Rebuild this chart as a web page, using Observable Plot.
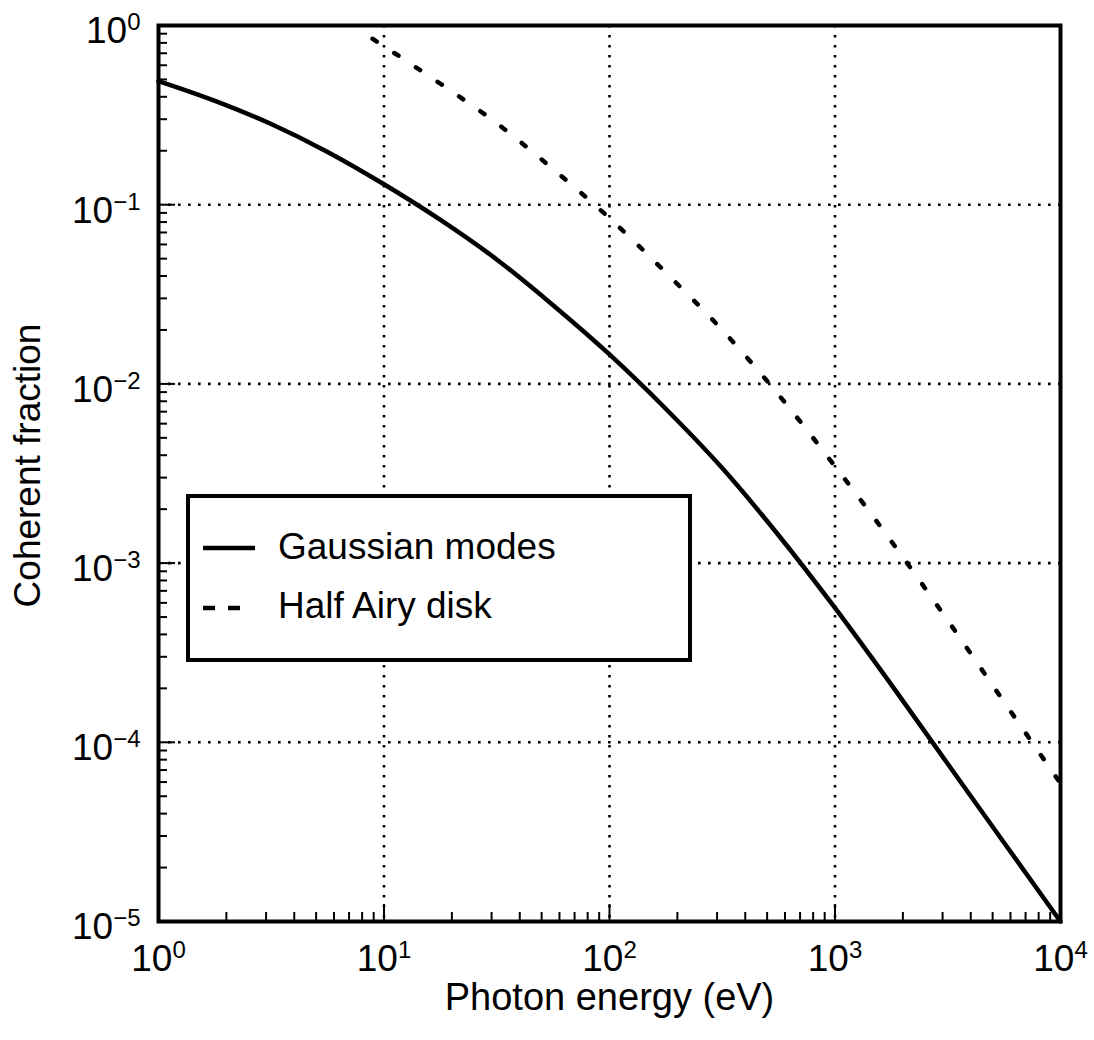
<!DOCTYPE html>
<html>
<head>
<meta charset="utf-8">
<script src="https://cdn.jsdelivr.net/npm/d3@7"></script>
<script src="https://cdn.jsdelivr.net/npm/@observablehq/plot@0.6"></script>
<style>
  html, body { margin: 0; padding: 0; background: #fff; }
  #chart svg { display: block; }
</style>
</head>
<body>
<div id="chart"></div>
<script>
// ---- Data ----
const energyGaussian = [1, 1.78, 3.16, 5.62, 10, 17.8, 31.6, 56.2, 100, 178, 316, 562, 1000, 1780, 3160, 5620, 10000];
const fractionGaussian = [0.49, 0.38, 0.282, 0.197, 0.13, 0.0822, 0.0495, 0.0275, 0.0146, 0.00724, 0.00339, 0.00143, 0.000562, 0.000209, 0.0000759, 0.0000275, 0.00001];
const energyAiry = [8.9, 10, 17.8, 31.6, 56.2, 100, 178, 316, 562, 1000, 1780, 3160, 5620, 10000];
const fractionAiry = [0.843, 0.766, 0.473, 0.285, 0.158, 0.0841, 0.0417, 0.020, 0.0087, 0.00347, 0.00132, 0.000479, 0.000168, 0.000059];
const seriesNames = ["Gaussian modes", "Half Airy disk"];
const xTickValues = [1, 10, 100, 1000, 10000];
const xTickExponents = ["0", "1", "2", "3", "4"];
const yTickValues = [1e-5, 1e-4, 1e-3, 1e-2, 1e-1, 1];
const yTickExponents = ["\u22125", "\u22124", "\u22123", "\u22122", "\u22121", "0"];
const xTitle = "Photon energy (eV)";
const yTitle = "Coherent fraction";

// ---- Layout ----
const FONT = "'Liberation Sans', Arial, Helvetica, sans-serif";
const W = 1094, H = 1040;
const mL = 158, mR = 34, mT = 25, mB = 119;
const frameW = W - mL - mR, frameH = H - mT - mB;

const gaussian = energyGaussian.map((e, i) => ({E: e, f: fractionGaussian[i]}));
const airy = energyAiry.map((e, i) => ({E: e, f: fractionAiry[i]}));
const minorX = xTickValues.slice(0, -1).flatMap(d => d3.range(2, 10).map(k => k * d));
const minorY = yTickValues.slice(0, -1).flatMap(d => d3.range(2, 10).map(k => k * d));
const innerX = xTickValues.slice(1, -1);
const innerY = yTickValues.slice(1, -1);

const gridStyle = {stroke: "black", strokeOpacity: 1, strokeWidth: 2.6, strokeDasharray: "2.6,7.4"};

const svg = Plot.plot({
  width: W, height: H,
  marginLeft: mL, marginRight: mR, marginTop: mT, marginBottom: mB,
  style: {fontFamily: FONT, background: "white", color: "black", overflow: "visible"},
  x: {type: "log", domain: [1, 1e4], axis: null},
  y: {type: "log", domain: [1e-5, 1], axis: null},
  marks: [
    Plot.ruleX(innerX, {x: d => d, ...gridStyle}),
    Plot.ruleY(innerY, {y: d => d, ...gridStyle}),
    Plot.ruleX(minorX, {x: d => d, insetTop: frameH - 9, stroke: "black", strokeWidth: 2}),
    Plot.ruleX(innerX, {x: d => d, insetTop: frameH - 17, stroke: "black", strokeWidth: 2}),
    Plot.ruleY(minorY, {y: d => d, insetRight: frameW - 9, stroke: "black", strokeWidth: 2}),
    Plot.ruleY(innerY, {y: d => d, insetRight: frameW - 17, stroke: "black", strokeWidth: 2}),
    Plot.line(gaussian, {x: "E", y: "f", stroke: "black", strokeWidth: 4.5, curve: "monotone-x"}),
    Plot.line(airy, {x: "E", y: "f", stroke: "black", strokeWidth: 4.5, strokeDasharray: "5,21", strokeLinecap: "round", curve: "monotone-x"}),
    Plot.frame({stroke: "black", strokeWidth: 4}),
    Plot.text(xTickValues, {x: d => d, frameAnchor: "bottom", lineAnchor: "middle", text: (d, i) => "10|" + xTickExponents[i], dy: 38, fontSize: 37, textAnchor: "middle", fill: "black"}),
    Plot.text(yTickValues, {y: d => d, frameAnchor: "left", lineAnchor: "middle", text: (d, i) => "10|" + yTickExponents[i], dx: -18, dy: 6, fontSize: 37, textAnchor: "end", fill: "black"}),
    Plot.text([xTitle], {frameAnchor: "bottom", lineAnchor: "middle", textAnchor: "middle", text: d => d, dy: 76, fontSize: 38, fill: "black"}),
    Plot.text([yTitle], {frameAnchor: "left", lineAnchor: "middle", textAnchor: "middle", text: d => d, rotate: -90, dx: -130, dy: -8, fontSize: 37, fill: "black"})
  ]
});

// superscript exponents in tick labels
svg.querySelectorAll("text").forEach(t => {
  const s = t.textContent;
  if (!s.includes("|")) return;
  const [base, exp] = s.split("|");
  while (t.firstChild) t.removeChild(t.firstChild);
  const ns = "http://www.w3.org/2000/svg";
  const b = document.createElementNS(ns, "tspan");
  b.textContent = base;
  const e = document.createElementNS(ns, "tspan");
  e.textContent = exp;
  e.setAttribute("dy", "-13");
  e.setAttribute("font-size", "24");
  t.appendChild(b);
  t.appendChild(e);
});

// legend box inside the plot
const g = d3.select(svg).append("g").attr("font-family", FONT).attr("text-anchor", "start");
g.append("rect").attr("x", 188).attr("y", 496).attr("width", 502).attr("height", 164)
  .attr("fill", "white").attr("stroke", "black").attr("stroke-width", 4);
g.append("line").attr("x1", 203).attr("x2", 255).attr("y1", 548).attr("y2", 548)
  .attr("stroke", "black").attr("stroke-width", 4.5);
g.append("line").attr("x1", 203).attr("x2", 240).attr("y1", 608).attr("y2", 608)
  .attr("stroke", "black").attr("stroke-width", 4.5).attr("stroke-dasharray", "12,13");
g.append("text").attr("x", 278).attr("y", 559).attr("font-size", 37).attr("fill", "black").attr("text-anchor", "start").text(seriesNames[0]);
g.append("text").attr("x", 278).attr("y", 618).attr("font-size", 37).attr("fill", "black").attr("text-anchor", "start").text(seriesNames[1]);

document.getElementById("chart").appendChild(svg);
</script>
</body>
</html>
